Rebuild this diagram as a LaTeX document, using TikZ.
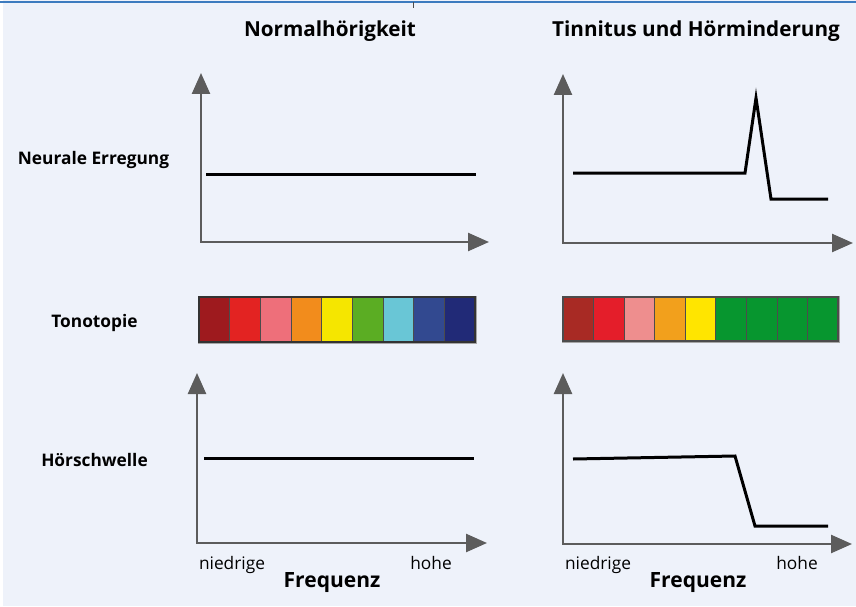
\documentclass[tikz,border=0pt]{standalone}
\usepackage{fontspec}
\setmainfont{Open Sans}
\usetikzlibrary{arrows.meta}
\definecolor{PanelBg}{HTML}{EEF2FA}
\definecolor{FrameBlue}{HTML}{3C7BBF}
\definecolor{AxisGray}{HTML}{5C5C5C}
\definecolor{ToneA}{HTML}{9E1A1E}
\definecolor{ToneB}{HTML}{E32322}
\definecolor{ToneC}{HTML}{EE6F7A}
\definecolor{ToneD}{HTML}{F28C1C}
\definecolor{ToneE}{HTML}{F5E600}
\definecolor{ToneF}{HTML}{5BAD23}
\definecolor{ToneG}{HTML}{69C6D6}
\definecolor{ToneH}{HTML}{324990}
\definecolor{ToneI}{HTML}{212A77}
\definecolor{LossA}{HTML}{A82A24}
\definecolor{LossB}{HTML}{E41E2A}
\definecolor{LossC}{HTML}{EE8E8E}
\definecolor{LossD}{HTML}{F2A01C}
\definecolor{LossE}{HTML}{FFE500}
\definecolor{LossF}{HTML}{07962F}

\begin{document}
\begin{tikzpicture}[x=1pt, y=-1pt,
    title/.style={font=\fontsize{20.7}{24}\selectfont\bfseries, inner sep=0pt, anchor=base},
    rowlabel/.style={font=\fontsize{17.3}{20}\selectfont\bfseries, inner sep=0pt, anchor=base},
    ticklabel/.style={font=\fontsize{17.3}{20}\selectfont, inner sep=0pt, anchor=base},
    freqlabel/.style={font=\fontsize{21}{24}\selectfont\bfseries, inner sep=0pt, anchor=base},
    axis/.style={{Triangle[length=21pt,width=18pt]}-{Triangle[length=21pt,width=18pt]}, line width=2.5pt, AxisGray},
    curve/.style={line width=3pt, black},
    cell/.style={line width=0.8pt, draw=black!70}
  ]
    \useasboundingbox (0,0) rectangle (856,607);
    \fill[white] (0,0) rectangle (856,607);
    \fill[PanelBg] (3,0) rectangle (856,606);
    \draw[FrameBlue, line width=2pt] (0,2) -- (856,2);
    \draw[black!70, line width=1pt] (413,2) -- (413,8);

    \node[title] (normal) at (330,37) {Normalhörigkeit};
    \node[title] (tinnitus) at (696,37) {Tinnitus und Hörminderung};

    \node[rowlabel] (erregung) at (93.5,164) {Neurale Erregung};
    \node[rowlabel] (tonotopie) at (94.5,327) {Tonotopie};
    \node[rowlabel] (schwelle) at (94.5,466) {Hörschwelle};

    % axes
    \coordinate (tlY) at (201,73);  \coordinate (tlO) at (201,242); \coordinate (tlX) at (489,242);
    \coordinate (trY) at (563,74);  \coordinate (trO) at (563,243); \coordinate (trX) at (853,243);
    \coordinate (blY) at (197,373); \coordinate (blO) at (197,543); \coordinate (blX) at (487,543);
    \coordinate (brY) at (563,373); \coordinate (brO) at (563,544); \coordinate (brX) at (852,544);
    \draw[axis] (tlY) -- (tlO) -- (tlX);
    \draw[axis] (trY) -- (trO) -- (trX);
    \draw[axis] (blY) -- (blO) -- (blX);
    \draw[axis] (brY) -- (brO) -- (brX);

    % curves
    \draw[curve] (206,174) -- (476,174);
    \draw[curve] (573,173) -- (745,173) -- (756,98) -- (771,199) -- (828,199);
    \draw[curve] (204,458) -- (474,458);
    \draw[curve] (573,459) -- (735,456) -- (755,526) -- (828,526);

    % tonotopy bars
    \draw[black!35, line width=3pt] (199,297) rectangle (475,342);
    \foreach \col [count=\i from 0] in {ToneA,ToneB,ToneC,ToneD,ToneE,ToneF,ToneG,ToneH,ToneI}
      \filldraw[cell, fill=\col] (199+\i*30.67,297) rectangle ++(30.67,45);
    \draw[black!80, line width=1.2pt] (199,297) rectangle (475,342);

    \draw[black!35, line width=3pt] (563,297) rectangle (838,341);
    \foreach \col [count=\i from 0] in {LossA,LossB,LossC,LossD,LossE,LossF,LossF,LossF,LossF}
      \filldraw[cell, fill=\col] (563+\i*30.56,297) rectangle ++(30.56,44);
    \draw[black!70, line width=1.2pt] (563,297) rectangle (838,341);

    % frequency labels
    \node[ticklabel] (lowL) at (232,569) {niedrige};
    \node[ticklabel] (highL) at (431,569) {hohe};
    \node[freqlabel] (freqL) at (332,587) {Frequenz};
    \node[ticklabel] (lowR) at (598,569) {niedrige};
    \node[ticklabel] (highR) at (797,569) {hohe};
    \node[freqlabel] (freqR) at (698,587) {Frequenz};
  \end{tikzpicture}
\end{document}
